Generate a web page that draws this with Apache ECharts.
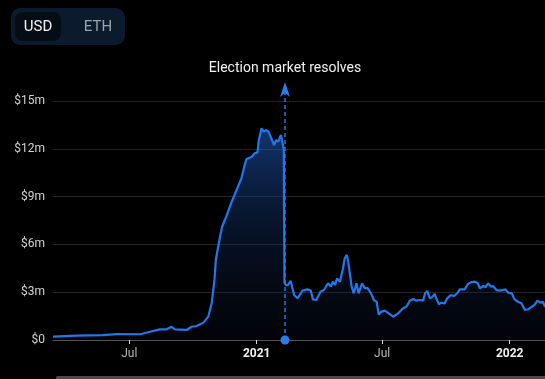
<!DOCTYPE html>
<html>
<head>
<meta charset="utf-8">
<script src="https://cdn.jsdelivr.net/npm/echarts@6/dist/echarts.min.js"></script>
<style>
html,body{margin:0;padding:0;background:#000;}
#chart{width:545px;height:379px;}
</style>
</head>
<body>
<div id="chart"></div>
<script>
// ---- data ----
const dates = [
'2020-03-13','2020-04-16','2020-05-24','2020-06-13','2020-07-17','2020-07-31','2020-08-14','2020-08-24','2020-08-31','2020-09-05',
'2020-09-22','2020-09-29','2020-10-06','2020-10-16','2020-10-23','2020-10-28','2020-11-01','2020-11-03','2020-11-05','2020-11-09',
'2020-11-12','2020-11-18','2020-11-25','2020-12-03','2020-12-10','2020-12-14','2020-12-17','2020-12-25','2020-12-29','2021-01-02',
'2021-01-04','2021-01-08','2021-01-11','2021-01-15','2021-01-18','2021-01-22','2021-01-26','2021-01-29','2021-02-01','2021-02-05',
'2021-02-07','2021-02-09','2021-02-10','2021-02-12','2021-02-15','2021-02-19','2021-02-24','2021-03-01','2021-03-08','2021-03-15',
'2021-03-20','2021-03-23','2021-03-28','2021-04-03','2021-04-08','2021-04-14','2021-04-18','2021-04-21','2021-04-24','2021-04-27',
'2021-05-01','2021-05-05','2021-05-08','2021-05-11','2021-05-13','2021-05-15','2021-05-18','2021-05-21','2021-05-25','2021-05-28',
'2021-06-02','2021-06-06','2021-06-10','2021-06-15','2021-06-19','2021-06-23','2021-06-26','2021-06-30','2021-07-05','2021-07-09',
'2021-07-17','2021-07-24','2021-07-31','2021-08-05','2021-08-10','2021-08-15','2021-08-19','2021-08-24','2021-08-29','2021-09-01',
'2021-09-04','2021-09-08','2021-09-11','2021-09-15','2021-09-17','2021-09-21','2021-09-24','2021-09-29','2021-10-03','2021-10-08',
'2021-10-13','2021-10-18','2021-10-21','2021-10-24','2021-10-28','2021-11-02','2021-11-07','2021-11-12','2021-11-16','2021-11-19',
'2021-11-24','2021-11-27','2021-12-01','2021-12-05','2021-12-08','2021-12-13','2021-12-18','2021-12-22','2021-12-26','2021-12-30',
'2022-01-04','2022-01-08','2022-01-13','2022-01-18','2022-01-23','2022-01-28','2022-02-02','2022-02-06','2022-02-10','2022-02-15',
'2022-02-18','2022-02-21'
];
// liquidity in millions of USD
const values = [
0.21,0.27,0.31,0.37,0.36,0.52,0.67,0.67,0.83,0.67,
0.63,0.83,0.88,1.09,1.46,2.3,3.77,5.02,5.54,6.48,
7.11,7.74,8.58,9.42,10.15,10.88,11.34,11.5,11.72,11.76,
12.55,13.29,13.08,13.18,13.08,12.66,12.24,12.55,12.45,12.87,
12.76,12.0,3.6,3.45,3.45,3.72,2.82,2.62,3.10,3.18,
3.10,2.55,2.51,3.03,3.14,3.56,3.35,3.66,3.45,3.87,
3.66,4.39,5.13,5.34,4.92,4.29,3.35,2.93,3.56,2.93,
3.56,3.25,3.25,2.93,2.51,2.40,1.6,1.78,1.84,1.72,
1.46,1.67,1.99,2.09,2.47,2.57,2.47,2.51,2.47,2.93,
3.08,2.62,2.68,2.89,2.62,2.24,2.34,2.30,2.62,2.82,
2.76,2.97,3.18,3.18,3.18,3.52,3.64,3.66,3.56,3.25,
3.39,3.31,3.56,3.35,3.39,3.14,3.10,3.14,3.18,2.97,
2.93,2.55,2.40,2.30,1.88,1.93,2.09,2.20,2.47,2.34,
2.40,2.09
];
const xTickDates = ['2020-07-01','2021-01-01','2021-07-01','2022-01-01'];
const xTickLabels = ['Jul','2021','Jul','2022'];
const xTickIsYear = [false,true,false,true];
const yTickValues = [0,3,6,9,12,15];
const yTickLabels = ['$0','$3m','$6m','$9m','$12m','$15m'];
const xMin = '2020-03-13', xMax = '2022-02-21';
const eventDate = '2021-02-11';
const eventLabel = 'Election market resolves';
const toggleLabels = ['USD','ETH'];

// ---- chart ----
const FONT = 'Roboto, "Liberation Sans", sans-serif';
const ts = d => new Date(d + 'T00:00:00Z').getTime();
const chart = echarts.init(document.getElementById('chart'), null, {renderer:'canvas'});
const seriesData = dates.map((d,i) => [ts(d), values[i]*1e6]);
const tickTs = xTickDates.map(ts);

chart.setOption({
  backgroundColor: '#000',
  animation: false,
  grid: {left: 53, right: 0, top: 101, bottom: 39, containLabel: false},
  xAxis: {
    type: 'value',
    min: ts(xMin), max: ts(xMax),
    axisLine: {lineStyle: {color: '#555', width: 1}},
    axisTick: {show: true, customValues: tickTs, length: 4, lineStyle: {color: '#ddd'}},
    splitLine: {show: false},
    axisLabel: {
      customValues: tickTs,
      margin: 8,
      fontFamily: FONT,
      fontSize: 12,
      formatter: function (v) {
        const i = tickTs.indexOf(v);
        if (i < 0) return '';
        return xTickIsYear[i] ? '{y|' + xTickLabels[i] + '}' : '{m|' + xTickLabels[i] + '}';
      },
      rich: {
        y: {color: '#f2f2f2', fontWeight: 'bold', fontSize: 12, fontFamily: FONT},
        m: {color: '#b8b8b8', fontSize: 12, fontFamily: FONT}
      }
    }
  },
  yAxis: {
    type: 'value',
    min: 0, max: 15e6, interval: 3e6,
    axisLine: {show: false},
    axisTick: {show: false},
    splitLine: {lineStyle: {color: '#242424', width: 1}},
    axisLabel: {
      color: '#d4d4d4', fontSize: 12, fontFamily: FONT, margin: 8,
      formatter: function (v) {
        const i = yTickValues.indexOf(Math.round(v/1e6));
        return i >= 0 ? yTickLabels[i] : '';
      }
    }
  },
  series: [{
    type: 'line',
    data: seriesData,
    showSymbol: false,
    symbol: 'none',
    lineStyle: {color: '#2277ea', width: 2.2},
    areaStyle: {
      color: new echarts.graphic.LinearGradient(0, 0, 0, 1, [
        {offset: 0, color: 'rgba(34,96,200,0.78)'},
        {offset: 0.5, color: 'rgba(20,55,120,0.45)'},
        {offset: 1, color: 'rgba(12,22,45,0.25)'}
      ])
    },
    z: 3
  }]
});

function drawGraphics() {
  const ex = chart.convertToPixel({gridIndex: 0}, [ts(eventDate), 0]);
  const top = chart.convertToPixel({gridIndex: 0}, [ts(eventDate), 15e6]);
  const x = Math.round(ex[0]);
  const y0 = ex[1];
  const tipY = top[1] - 19;
  const blue = '#2a7de9';
  chart.setOption({
    graphic: [
      // currency toggle
      {type: 'rect', shape: {x: 11, y: 8, width: 114, height: 37, r: 9}, style: {fill: '#0c1a2e'}, z: 10},
      {type: 'rect', shape: {x: 15, y: 12, width: 46, height: 29, r: 8}, style: {fill: '#050c16'}, z: 11},
      {type: 'text', x: 38, y: 27, style: {text: toggleLabels[0], fill: '#f2f2f2', font: '15px ' + FONT, align: 'center', verticalAlign: 'middle'}, z: 12},
      {type: 'text', x: 98, y: 27, style: {text: toggleLabels[1], fill: '#9aa3ae', font: '15px ' + FONT, align: 'center', verticalAlign: 'middle'}, z: 12},
      // event marker
      {type: 'rect', shape: {x: x - 0.75, y: tipY + 10, width: 1.5, height: y0 - tipY - 10}, style: {fill: 'none', stroke: null}, z: 19, invisible: true},
      {type: 'line', shape: {x1: x, y1: y0, x2: x, y2: tipY + 10}, style: {stroke: blue, lineWidth: 1.4, lineDash: [4, 3]}, z: 20},
      {type: 'polygon', shape: {points: [[x, tipY], [x + 5, tipY + 15], [x, tipY + 11], [x - 5, tipY + 15]]}, style: {fill: blue}, z: 21},
      {type: 'circle', shape: {cx: x, cy: y0, r: 4.5}, style: {fill: blue}, z: 21},
      {type: 'text', x: x, y: tipY - 14, style: {text: eventLabel, fill: '#f0f0f0', font: '14px ' + FONT, align: 'center', verticalAlign: 'middle'}, z: 21},
      // bottom scroll bar
      {type: 'rect', shape: {x: 56, y: 376, width: 495, height: 5, r: 2}, style: {fill: '#4a4a4a'}, z: 10}
    ]
  });
}
drawGraphics();
</script>
</body>
</html>
